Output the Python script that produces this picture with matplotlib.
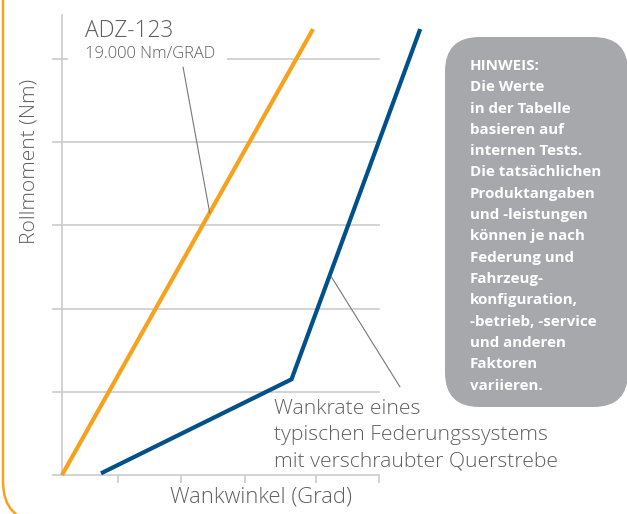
import matplotlib
matplotlib.use("Agg")
import matplotlib.pyplot as plt
from matplotlib.patches import FancyBboxPatch
from matplotlib import font_manager

W, H = 627, 514
DPI = 100

# ---- data ----
x_ticks = [0.88, 1.88, 2.89, 4.0, 5.0]
y_grid = [0, 1, 2, 3, 4, 5]
adz_x = [0.0, 3.96]
adz_y = [0.0, 5.36]
typ_x = [0.615, 3.62, 5.65]
typ_y = [0.02, 1.15, 5.36]

x_label = "Wankwinkel (Grad)"
y_label = "Rollmoment (Nm)"
adz_title = "ADZ-123"
adz_rate = "19.000 Nm/GRAD"
typ_label = "Wankrate eines\ntypischen Federungssystems\nmit verschraubter Querstrebe"
note_lines = ["HINWEIS:", "Die Werte", "in der Tabelle", "basieren auf",
              "internen Tests.", "Die tatsächlichen", "Produktangaben",
              "und -leistungen", "können je nach", "Federung und",
              "Fahrzeug-", "konfiguration,", "-betrieb, -service",
              "und anderen", "Faktoren", "variieren."]

ORANGE = "#F6A21C"
BLUE = "#00518A"
GRID = "#cccccc"
TEXT = "#5f5f5f"
BOX = "#a7a8ab"

avail = {f.name for f in font_manager.fontManager.ttflist}
FONT = "Open Sans" if "Open Sans" in avail else "DejaVu Sans"
LIGHT = "light"

def fx(px):
    return px / W

def fy(py):
    return 1 - py / H

fig = plt.figure(figsize=(W / DPI, H / DPI), dpi=DPI)
fig.patch.set_facecolor("white")

# orange frame (rounded corner bottom-left)
frame = FancyBboxPatch((fx(3), fy(522)), fx(700), fy(-100) - fy(522),
                       boxstyle="round,pad=0,rounding_size=0.065",
                       transform=fig.transFigure, facecolor="none",
                       edgecolor=ORANGE, linewidth=1.8, mutation_aspect=W / H)
fig.patches.append(frame)

# axes
x0, x1 = 62, 379
y0, ytop = 475, 15
unit_y = 83.2
ax = fig.add_axes([fx(x0), fy(y0), fx(x1 - x0), (y0 - ytop) / H])
ax.set_xlim(0, 5.0)
ax.set_ylim(0, (y0 - ytop) / unit_y)
ax.set_facecolor("none")
for s in ["top", "right", "bottom"]:
    ax.spines[s].set_visible(False)
ax.spines["left"].set_color(GRID)
ax.spines["left"].set_linewidth(1.2)

ax.set_xticks(x_ticks)
ax.set_xticklabels([])
ax.set_yticks(y_grid)
ax.set_yticklabels([])
ax.tick_params(axis="x", direction="out", length=6, width=1.2, color=GRID)
ax.tick_params(axis="y", direction="out", length=7, width=1.2, color=GRID)
for yv in y_grid:
    ax.axhline(yv, color=GRID, linewidth=1.2, zorder=1, clip_on=False)

ax.plot(adz_x, adz_y, color=ORANGE, linewidth=3.0, solid_capstyle="butt",
        clip_on=False, zorder=3)
ax.plot(typ_x, typ_y, color=BLUE, linewidth=3.0, solid_capstyle="butt",
        solid_joinstyle="miter", clip_on=False, zorder=3)

# leader lines
ax.plot([1.91, 2.33], [4.90, 3.15], color="#777777", linewidth=0.8, zorder=4, clip_on=False)
ax.plot([4.25, 5.33], [2.38, 1.06], color="#777777", linewidth=0.8, zorder=4, clip_on=False)

# ADZ label (white background interrupts the gridline)
fig.patches.append(plt.Rectangle((fx(68), fy(66)), fx(227 - 68), fy(20) - fy(66),
                                 transform=fig.transFigure, facecolor="white",
                                 edgecolor="none", zorder=5))
fig.text(fx(85), fy(37), adz_title, fontsize=16.3, color=TEXT, family=FONT,
         fontweight=LIGHT, va="baseline", ha="left", zorder=6)
fig.text(fx(85), fy(58), adz_rate, fontsize=11.9, color=TEXT, family=FONT,
         fontweight=LIGHT, va="baseline", ha="left", zorder=6)

# typical label
for i, line in enumerate(typ_label.split("\n")):
    fig.text(fx(274), fy(414 + i * 26), line, fontsize=15.2, color=TEXT,
             family=FONT, fontweight=LIGHT, va="baseline", ha="left")

# axis labels
fig.text(fx(261), fy(497), x_label, fontsize=15.8, color=TEXT, family=FONT,
         fontweight=LIGHT, ha="center", va="center")
fig.text(fx(30), fy(161), y_label, fontsize=15.1, color=TEXT, family=FONT,
         fontweight=LIGHT, ha="center", va="center", rotation=90)

# note box
box = FancyBboxPatch((fx(445), fy(407)), fx(628 - 445), fy(37) - fy(407),
                     boxstyle="round,pad=0,rounding_size=0.055",
                     transform=fig.transFigure, facecolor=BOX,
                     edgecolor="none", mutation_aspect=W / H)
fig.patches.append(box)
for i, line in enumerate(note_lines):
    fig.text(fx(470), fy(70 + i * 21.3), line, fontsize=10.9, color="white",
             family=FONT, fontweight="bold", va="baseline", ha="left")

fig.savefig("out.png", dpi=DPI)
